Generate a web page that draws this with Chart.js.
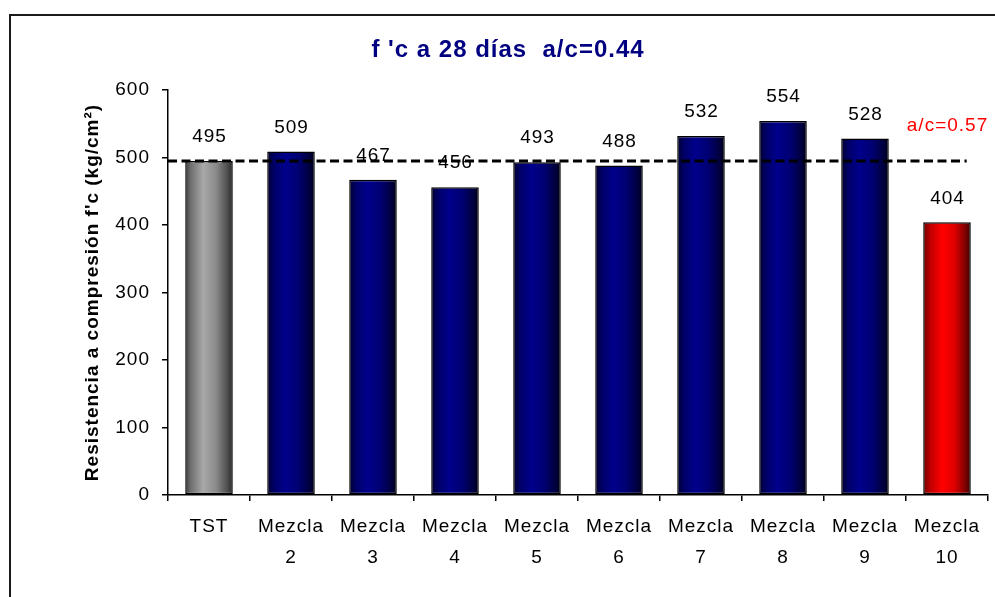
<!DOCTYPE html>
<html>
<head>
<meta charset="utf-8">
<script src="https://cdn.jsdelivr.net/npm/chart.js@4.4.0/dist/chart.umd.min.js"></script>
<style>
html,body{margin:0;padding:0;background:#fff;}
#wrap{position:relative;width:995px;height:597px;}
canvas{display:block;}
</style>
</head>
<body>
<div id="wrap"><canvas id="c" width="995" height="597"></canvas></div>
<script>
// ---- data ----
const categories = ['TST', ['Mezcla','2'], ['Mezcla','3'], ['Mezcla','4'], ['Mezcla','5'], ['Mezcla','6'], ['Mezcla','7'], ['Mezcla','8'], ['Mezcla','9'], ['Mezcla','10']];
const values = [495, 509, 467, 456, 493, 488, 532, 554, 528, 404];
const barGroups = ['control', 'mix', 'mix', 'mix', 'mix', 'mix', 'mix', 'mix', 'mix', 'high'];
const referenceValue = 495;
const yTickValues = [0, 100, 200, 300, 400, 500, 600];
const titleText = "f 'c a 28 días  a/c=0.44";
const yAxisTitle = "Resistencia a compresión f'c (kg/cm²)";
const noteText = 'a/c=0.57';
const noteIndex = 9;

// ---- styles ----
const FONT = '"Liberation Sans", Arial, sans-serif';
const gradientStops = {
  control: [[0,'#3a3a3a'],[0.12,'#707070'],[0.38,'#a8a8a8'],[0.65,'#8a8a8a'],[0.88,'#505050'],[1,'#2a2a2a']],
  mix:     [[0,'#000030'],[0.15,'#000068'],[0.38,'#00008c'],[0.65,'#000072'],[0.88,'#000040'],[1,'#000018']],
  high:    [[0,'#700000'],[0.15,'#c00000'],[0.4,'#ff0000'],[0.65,'#e00000'],[0.88,'#800000'],[1,'#400000']]
};

function setSpacing(ctx) {
  if ('letterSpacing' in ctx) ctx.letterSpacing = '1px';
}

const gradientPlugin = {
  id: 'barGradient',
  beforeDatasetsDraw(chart) {
    const ctx = chart.ctx;
    const meta = chart.getDatasetMeta(0);
    meta.data.forEach((el, i) => {
      const l = el.x - el.width / 2, r = el.x + el.width / 2;
      const g = ctx.createLinearGradient(l, 0, r, 0);
      gradientStops[barGroups[i]].forEach(([o, c]) => g.addColorStop(o, c));
      el.options.backgroundColor = g;
    });
  }
};

const framePlugin = {
  id: 'frame',
  beforeInit(chart) { setSpacing(chart.ctx); },
  beforeUpdate(chart) { setSpacing(chart.ctx); },
  beforeDraw(chart) {
    const ctx = chart.ctx;
    setSpacing(ctx);
    ctx.save();
    ctx.fillStyle = '#fff';
    ctx.fillRect(0, 0, chart.width, chart.height);
    ctx.strokeStyle = '#1a1a1a';
    ctx.lineWidth = 2;
    ctx.strokeRect(10, 15, chart.width + 20, chart.height + 20);
    // chart title
    ctx.font = 'bold 24px ' + FONT;
    ctx.fillStyle = '#000080';
    ctx.textAlign = 'center';
    ctx.textBaseline = 'middle';
    ctx.fillText(titleText, 508, 50);
    ctx.restore();
  }
};

const overlayPlugin = {
  id: 'overlay',
  afterDatasetsDraw(chart) {
    const ctx = chart.ctx;
    const xs = chart.scales.x, ys = chart.scales.y;
    const meta = chart.getDatasetMeta(0);
    const y = ys.getPixelForValue(referenceValue);
    const catW = (xs.right - xs.left) / categories.length;
    const xEnd = xs.getPixelForValue(categories.length - 1) + catW * 0.24;
    ctx.save();
    ctx.setLineDash([9, 4.5]);
    ctx.lineWidth = 3;
    ctx.strokeStyle = '#000';
    ctx.beginPath();
    ctx.moveTo(chart.chartArea.left, y);
    ctx.lineTo(xEnd, y);
    ctx.stroke();
    ctx.setLineDash([]);
    ctx.font = '19px ' + FONT;
    ctx.textAlign = 'center';
    ctx.textBaseline = 'middle';
    ctx.fillStyle = '#000';
    meta.data.forEach((el, i) => {
      ctx.fillText(String(values[i]), el.x + 0.5, el.y - 24);
    });
    const ne = meta.data[noteIndex];
    ctx.fillStyle = '#ff0000';
    ctx.fillText(noteText, ne.x + 0.5, ne.y - 97);
    ctx.restore();
  }
};

new Chart(document.getElementById('c'), {
  type: 'bar',
  data: {
    labels: categories,
    datasets: [{
      data: values,
      backgroundColor: (c) => '#000080',
      borderColor: '#000',
      borderWidth: 1.5,
      borderSkipped: false,
      barPercentage: 0.58,
      categoryPercentage: 1.0
    }]
  },
  options: {
    responsive: false,
    animation: false,
    devicePixelRatio: 1,
    layout: { padding: { left: 0, right: 7, top: 90, bottom: 0 } },
    plugins: {
      legend: { display: false },
      tooltip: { enabled: false },
      title: { display: false }
    },
    scales: {
      x: {
        grid: { offset: true, drawOnChartArea: false, tickLength: 6, color: '#000', lineWidth: 1.5 },
        border: { color: '#000', width: 1.5 },
        ticks: { color: '#000', font: { family: FONT, size: 19, lineHeight: 1.6 }, padding: 11, maxRotation: 0, autoSkip: false },
        afterFit(s) { s.height = 102; }
      },
      y: {
        min: 0, max: 600,
        afterBuildTicks(s) { s.ticks = yTickValues.map(v => ({ value: v })); },
        grid: { drawOnChartArea: false, tickLength: 6, color: '#000', lineWidth: 1.5 },
        border: { color: '#000', width: 1.5 },
        ticks: { color: '#000', font: { family: FONT, size: 19 }, padding: 12 },
        title: {
          display: true,
          text: yAxisTitle,
          color: '#000',
          font: { family: FONT, size: 19, weight: 'bold', lineHeight: 1.2 },
          padding: { top: 81, bottom: 0 }
        },
        afterFit(s) { s.width = 168; }
      }
    }
  },
  plugins: [framePlugin, gradientPlugin, overlayPlugin]
});
</script>
</body>
</html>
